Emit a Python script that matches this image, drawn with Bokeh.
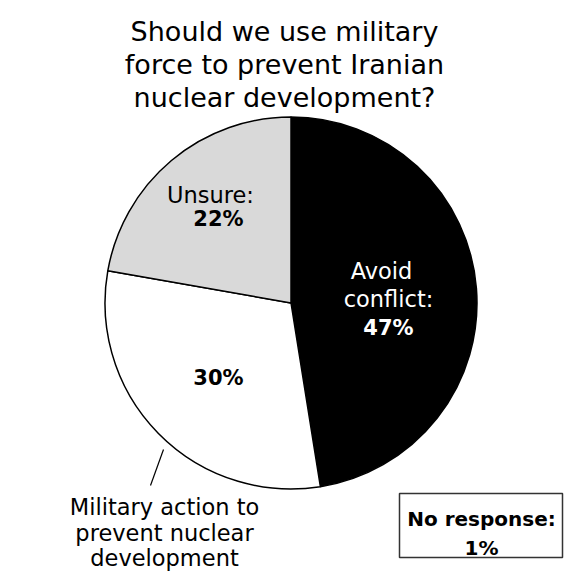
import math
from bokeh.plotting import figure
from bokeh.models import Range1d, ColumnDataSource
from bokeh.core.properties import value
from bokeh.embed import file_html
from bokeh.resources import INLINE

# ---- data ----
categories = ["Avoid conflict", "Military action to prevent nuclear development", "Unsure"]
percents = [47, 30, 22]
colors = ["#000000", "#ffffff", "#d9d9d9"]
no_response_pct = 1
title_lines = ["Should we use military", "force to prevent Iranian", "nuclear development?"]

FONT = "DejaVu Sans"
W = H = 572

p = figure(width=W, height=H, output_backend="svg", toolbar_location=None,
           x_range=Range1d(0, W), y_range=Range1d(0, H), min_border=0)
p.axis.visible = False
p.grid.visible = False
p.outline_line_color = None
p.background_fill_color = "white"
p.border_fill_color = "white"

def Y(py):
    return H - py

# pie (clockwise from 12 o'clock)
cx, cy, r = 290.5, Y(302.5), 186
total = sum(percents)
starts, ends = [], []
acc = 0.0
for v in percents:
    a0 = acc / total * 2 * math.pi
    acc += v
    a1 = acc / total * 2 * math.pi
    starts.append(math.pi / 2 - a1)
    ends.append(math.pi / 2 - a0)
src = ColumnDataSource(dict(cat=categories, pct=percents, color=colors, start=starts, end=ends))
p.wedge(x=cx, y=cy, radius=r, start_angle="start", end_angle="end", direction="anticlock",
        fill_color="color", line_color="black", line_width=1.5, source=src)

def txt(x, py, s, size, bold=False, color="black", align="center"):
    p.text(x=[x], y=[Y(py)], text=[s], text_font=value(FONT), text_font_size=f"{size}px",
           text_font_style="bold" if bold else "normal", text_color=color,
           text_align=align, text_baseline="alphabetic")

# title
for i, line in enumerate(title_lines):
    txt(284, 31 + i * 33, line, 27)

# slice labels
txt(210, 194, "Unsure:", 22.5)
txt(218, 218, f"{percents[2]}%", 21, bold=True)
txt(381, 270, "Avoid", 22.5, color="white")
txt(388, 298, "conflict:", 22.5, color="white")
txt(388, 327, f"{percents[0]}%", 21, bold=True, color="white")
txt(218, 377, f"{percents[1]}%", 21, bold=True)

# callout for military
p.line(x=[163, 150], y=[Y(449), Y(485)], line_color="black", line_width=1.2)
txt(164, 506, "Military action to", 22.5)
txt(164, 532, "prevent nuclear", 22.5)
txt(164, 557, "development", 22.5)

# no response box
p.quad(left=[399], right=[562], top=[Y(493)], bottom=[Y(557)], fill_color="white",
       line_color="#333333", line_width=1.5)
txt(481, 518, "No response:", 20, bold=True)
txt(481, 547, f"{no_response_pct}%", 20, bold=True)

open("out.html", "w").write(file_html(p, INLINE))
